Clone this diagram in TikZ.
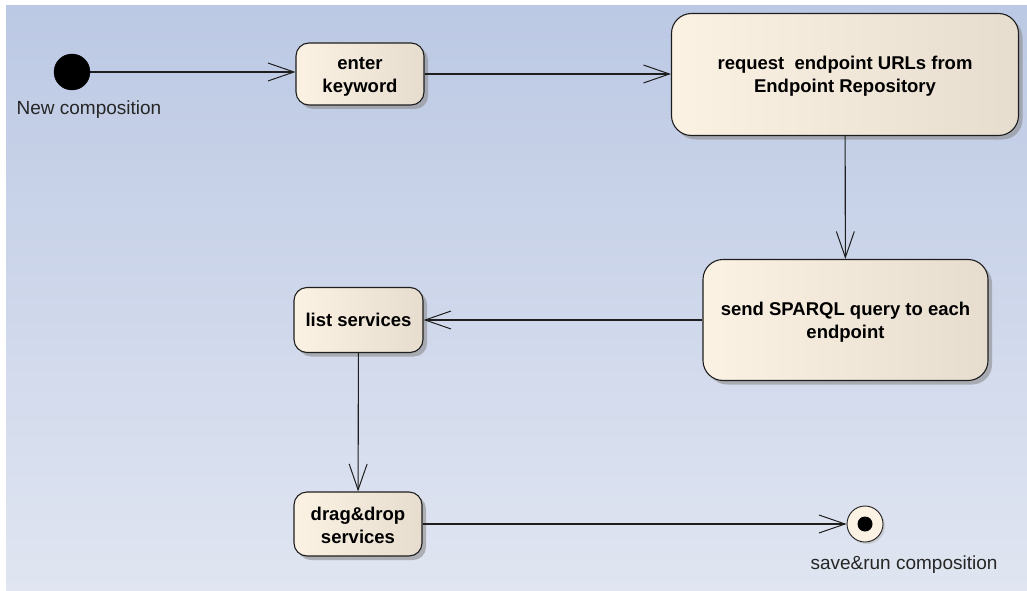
\documentclass[tikz,border=0pt]{standalone}
\usepackage{fontspec}
\setmainfont{Liberation Sans}
\usetikzlibrary{arrows.meta,positioning,shadows}

\definecolor{bgtop}{HTML}{BCC9E4}
\definecolor{bgbot}{HTML}{E0E5F1}
\definecolor{boxleft}{HTML}{FBF2E4}
\definecolor{boxright}{HTML}{E6DDCF}
\definecolor{edge}{HTML}{1E1E1E}

\tikzset{
  activity/.style={
    draw=edge, line width=1.1pt, align=center, inner sep=0pt,
    font=\fontsize{18.5}{23}\selectfont\bfseries,
    left color=boxleft, right color=boxright,
    text=black,
    drop shadow={shadow xshift=4pt, shadow yshift=-4pt, fill=black!45, opacity=0.6}
  },
  initstate/.style={circle, fill=black, draw=black, minimum size=36pt, inner sep=0pt},
  finalstate/.style={circle, draw=edge, line width=0.9pt, fill=boxleft, minimum size=36pt, inner sep=0pt,
    drop shadow={shadow xshift=2pt, shadow yshift=-2pt, fill=black!30, opacity=0.5}},
  statelabel/.style={font=\fontsize{19}{22}\selectfont, text=black!85},
  flow/.style={draw=edge, line width=1.1pt,
    -{Straight Barb[length=26pt, width=18pt, line width=1pt]}}
}

\begin{document}
\begin{tikzpicture}[x=1pt, y=-1pt]
  \useasboundingbox (0,0) rectangle (1027,591);
  \fill[top color=bgtop, bottom color=bgbot] (6,6) rectangle (1027,591);

  % states
  \node[initstate] (start) at (72,72) {};
  \node[statelabel] (startlbl) at (89,110) {New composition};

  \node[activity, minimum width=128pt, minimum height=62pt, rounded corners=13pt]
    (enter) at (360,74) {\rule{0pt}{17pt}enter\\keyword};
  \node[activity, minimum width=347pt, minimum height=122pt, rounded corners=20pt]
    (request) at (845,74.5) {\rule{0pt}{17pt}request\ \ endpoint URLs from\\Endpoint Repository};
  \node[activity, minimum width=285pt, minimum height=121pt, rounded corners=20pt]
    (send) at (845.5,320) {\rule{0pt}{17pt}send SPARQL query to each\\endpoint};
  \node[activity, minimum width=129pt, minimum height=65pt, rounded corners=13pt]
    (list) at (358.5,320) {list services};
  \node[activity, minimum width=128pt, minimum height=64pt, rounded corners=13pt]
    (drag) at (358,524) {\rule{0pt}{17pt}drag\&drop\\services};

  \node[finalstate] (end) at (865,524) {};
  \fill[black] (end.center) circle (7.5pt);
  \node[statelabel] (endlbl) at (904,565) {save\&run composition};

  % control flow
  \draw[flow] (start) -- (enter.west |- start);
  \draw[flow] (enter) -- (request.west |- enter);
  \draw[flow] (request) -- (send);
  \draw[flow] (send) -- (list);
  \draw[flow] (list) -- (drag);
  \draw[flow] (drag) -- (end);
\end{tikzpicture}
\end{document}
